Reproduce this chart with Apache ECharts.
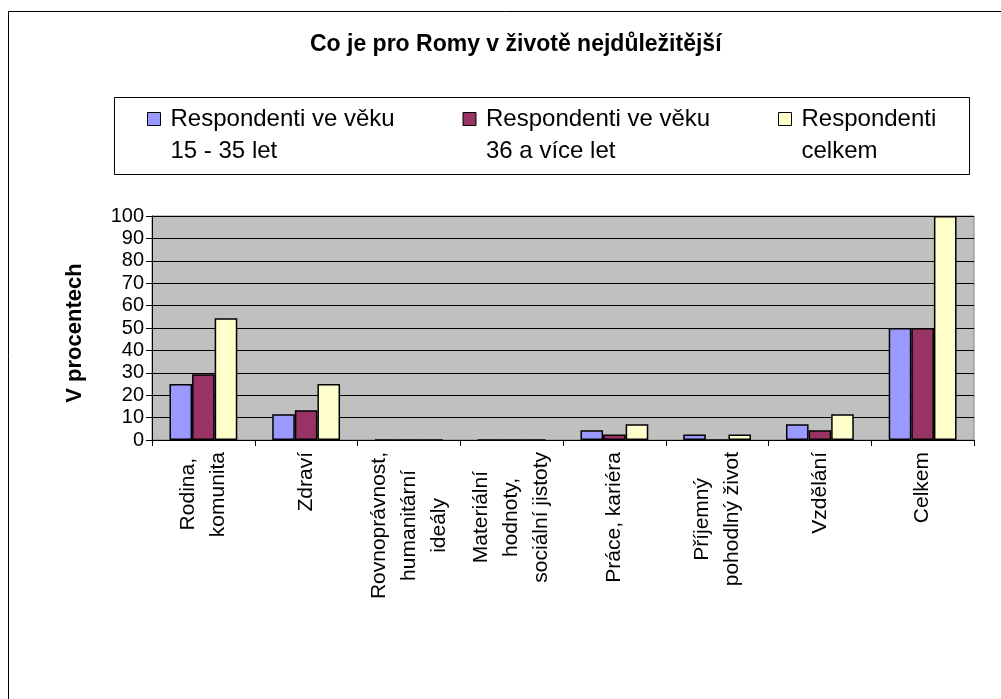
<!DOCTYPE html>
<html>
<head>
<meta charset="utf-8">
<title>Co je pro Romy v životě nejdůležitější</title>
<script src="https://cdn.jsdelivr.net/npm/echarts@6/dist/echarts.min.js"></script>
<style>
  html, body { margin: 0; padding: 0; background: #fff; }
  #chart { width: 1001px; height: 699px; }
</style>
</head>
<body>
<div id="chart"></div>
<script>
// kategorie (zalomení řádků jako v originále)
var categories = [
  'Rodina,\nkomunita',
  'Zdraví',
  'Rovnoprávnost,\nhumanitární\nideály',
  'Materiální\nhodnoty,\nsociální jistoty',
  'Práce, kariéra',
  'Příjemný\npohodlný život',
  'Vzdělání',
  'Celkem'
];
var seriesNames = [
  'Respondenti ve věku\n15 - 35 let',
  'Respondenti ve věku\n36 a více let',
  'Respondenti\ncelkem'
];
// hodnoty v procentech
var young = [25, 11.5, 0, 0, 4.3, 2.5, 7, 50];
var older = [29.3, 13.3, 0, 0, 2.5, 0, 4.3, 50];
var total = [54.3, 25, 0, 0, 7, 2.5, 11.5, 100];
var colors = ['#9999ff', '#993366', '#ffffcc'];

var font = "'Liberation Sans', Arial, sans-serif";
var labelSize = 21;

// popisky osy x: řádky vycentrované v bloku, blok zarovnaný k ose
// (doplnění mezerou na konci kratších řádků)
var measureCtx = document.createElement('canvas').getContext('2d');
measureCtx.font = labelSize + "px 'Liberation Sans', Arial, sans-serif";
var labelRich = {
  t: { align: 'right', fontFamily: font, fontSize: labelSize, lineHeight: 30, color: '#000' }
};
var labelText = {};
categories.forEach(function (c) {
  var lines = c.split('\n');
  var widths = lines.map(function (l) { return measureCtx.measureText(l).width; });
  var maxW = Math.max.apply(null, widths);
  labelText[c] = lines.map(function (l, i) {
    var pad = Math.round((maxW - widths[i]) / 2);
    if (pad < 1) return '{t|' + l + '}';
    var key = 'p' + pad;
    labelRich[key] = { width: pad, align: 'right', fontSize: labelSize, lineHeight: 30 };
    return '{t|' + l + '}{' + key + '| }';
  }).join('\n');
});

var chart = echarts.init(document.getElementById('chart'));

function barSeries (name, data) {
  return {
    name: name,
    type: 'bar',
    barGap: 0,
    barCategoryGap: '34%',
    itemStyle: { borderColor: '#000', borderWidth: 1.5 },
    emphasis: { disabled: true },
    data: data
  };
}

var option = {
  backgroundColor: '#fff',
  color: colors,
  animation: false,
  title: {
    text: 'Co je pro Romy v životě nejdůležitější',
    left: 310,
    top: 33,
    padding: 0,
    textStyle: { fontFamily: font, fontSize: 23, fontWeight: 'bold', color: '#000' }
  },
  // rámeček celého grafu a rámeček legendy
  graphic: [
    {
      type: 'rect', silent: true,
      shape: { x: 8.5, y: 11.5, width: 1200, height: 900 },
      style: { fill: null, stroke: '#000', lineWidth: 1 }
    },
    {
      type: 'rect', silent: true,
      shape: { x: 114.5, y: 97.5, width: 855, height: 77 },
      style: { fill: null, stroke: '#000', lineWidth: 1 }
    }
  ],
  legend: {
    left: 147,
    top: 71,
    width: 920,
    padding: 0,
    itemWidth: 13,
    itemHeight: 13,
    itemGap: 57,
    icon: 'rect',
    itemStyle: { borderColor: '#000', borderWidth: 1 },
    selectedMode: false,
    // prázdný první řádek: ikonka pak sedí u prvního řádku textu
    formatter: function (name) { return '\n' + name; },
    textStyle: {
      fontFamily: font,
      fontSize: 24,
      lineHeight: 32,
      color: '#000',
      width: 235,
      padding: [0, 0, 0, 5]
    },
    data: seriesNames
  },
  grid: {
    left: 152,
    right: 27,
    top: 216,
    bottom: 259,
    show: true,
    backgroundColor: '#c0c0c0',
    borderColor: '#808080',
    borderWidth: 1
  },
  xAxis: {
    type: 'category',
    data: categories,
    axisLine: { lineStyle: { color: '#000', width: 1 } },
    axisTick: { show: true, length: 6, lineStyle: { color: '#000' } },
    axisLabel: {
      interval: 0,
      rotate: 90,
      margin: 12,
      color: '#000',
      fontFamily: font,
      fontSize: labelSize,
      lineHeight: 30,
      formatter: function (v) { return labelText[v]; },
      rich: labelRich
    },
    splitLine: { show: false }
  },
  yAxis: {
    type: 'value',
    min: 0,
    max: 100,
    interval: 10,
    name: 'V procentech',
    nameLocation: 'middle',
    nameGap: 66,
    nameTextStyle: {
      fontFamily: font, fontSize: 22, fontWeight: 'bold', color: '#000',
      padding: [0, 10, 0, 0]
    },
    axisLine: { show: true, lineStyle: { color: '#000', width: 1 } },
    axisTick: { show: true, length: 6, lineStyle: { color: '#000' } },
    axisLabel: { margin: 8, color: '#000', fontFamily: font, fontSize: 20 },
    splitLine: { show: true, lineStyle: { color: '#000', width: 1 } }
  },
  series: [
    barSeries(seriesNames[0], young),
    barSeries(seriesNames[1], older),
    barSeries(seriesNames[2], total)
  ]
};

chart.setOption(option);
</script>
</body>
</html>
